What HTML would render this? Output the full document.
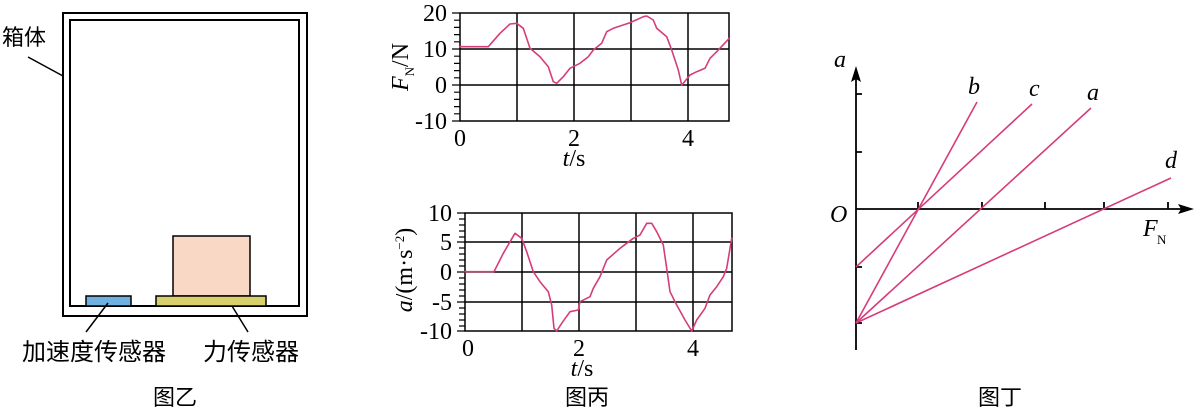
<!DOCTYPE html>
<html><head><meta charset="utf-8"><style>
html,body{margin:0;padding:0;background:#fff;}
svg{display:block;}
.s{font-family:"Liberation Serif","Noto Serif CJK SC",serif;fill:#000;}
.c{font-family:"Liberation Sans","Noto Sans CJK SC",sans-serif;fill:#000;}
polyline{stroke-linejoin:round;stroke-linecap:round;}
</style></head><body>
<svg width="1200" height="411" viewBox="0 0 1200 411" xmlns="http://www.w3.org/2000/svg">
<!-- 图乙 -->
<rect x="63" y="13" width="244" height="303" fill="none" stroke="#000" stroke-width="2"/>
<rect x="70" y="20" width="229" height="286" fill="none" stroke="#000" stroke-width="2"/>
<line x1="28" y1="57" x2="63" y2="76" stroke="#000" stroke-width="1.5"/>
<text x="2" y="45" class="c" font-size="22">箱体</text>
<rect x="86" y="296" width="45" height="10" fill="#6fb0e0" stroke="#000" stroke-width="1.5"/>
<rect x="173" y="236" width="77" height="60" fill="#f9d9c6" stroke="#000" stroke-width="1.5"/>
<rect x="156" y="296" width="110" height="10" fill="#d8d06a" stroke="#000" stroke-width="1.5"/>
<line x1="108" y1="303" x2="86" y2="332" stroke="#000" stroke-width="1.5"/>
<line x1="232" y1="306" x2="248" y2="332" stroke="#000" stroke-width="1.5"/>
<text x="22" y="360" class="c" font-size="24">加速度传感器</text>
<text x="203" y="360" class="c" font-size="24">力传感器</text>
<text x="175" y="405" class="c" font-size="22" text-anchor="middle">图乙</text>

<!-- 图丙 top -->
<g stroke="#000" stroke-width="1.5" fill="none">
<rect x="460" y="13" width="269" height="108"/>
<line x1="517" y1="13" x2="517" y2="121"/><line x1="574" y1="13" x2="574" y2="121"/>
<line x1="631" y1="13" x2="631" y2="121"/><line x1="688" y1="13" x2="688" y2="121"/>
<line x1="460" y1="49" x2="729" y2="49"/><line x1="460" y1="85" x2="729" y2="85"/>
<path d="M452 13H460M454 20.2H460M454 27.4H460M454 34.6H460M454 41.8H460M452 49H460M454 56.2H460M454 63.4H460M454 70.6H460M454 77.8H460M452 85H460M454 92.2H460M454 99.4H460M454 106.6H460M454 113.8H460M452 121H460" stroke-width="1.2"/>
</g>
<polyline fill="none" stroke="#d63c7a" stroke-width="1.6" points="460,46.7 488.3,46.7 500,33.3 510,24 516.7,23.3 523.3,28.3 530,48.3 540,56.7 548.3,66.7 553.3,81.7 556.7,83.3 563.3,76.7 570,68.3 580,63.3 588.3,56.7 593.3,50 601.7,43.3 606.7,31.7 613.3,28.3 630,22.7 643.3,16.7 646.7,16 653.3,20 656.7,28.3 666.7,36.7 671.7,50 678.3,70 681.7,85 683.3,83.3 690,75 696.7,71.7 705,68.3 710,58.3 716.7,51.7 729.3,38.3"/>
<g class="s" font-size="24" text-anchor="end">
<text x="447" y="21">20</text><text x="447" y="57">10</text><text x="447" y="93">0</text><text x="447" y="129">-10</text>
</g>
<g class="s" font-size="24" text-anchor="middle">
<text x="460" y="146">0</text><text x="574" y="146">2</text><text x="688" y="146">4</text>
<text x="574" y="166"><tspan font-style="italic">t</tspan>/s</text>
</g>
<text transform="translate(408,67) rotate(-90)" class="s" font-size="24" text-anchor="middle"><tspan font-style="italic">F</tspan><tspan font-size="13" dy="6">N</tspan><tspan dy="-6">/N</tspan></text>

<!-- 图丙 bottom -->
<g stroke="#000" stroke-width="1.5" fill="none">
<rect x="465" y="213" width="267" height="118"/>
<line x1="522" y1="213" x2="522" y2="331"/><line x1="579" y1="213" x2="579" y2="331"/>
<line x1="636" y1="213" x2="636" y2="331"/><line x1="693" y1="213" x2="693" y2="331"/>
<line x1="465" y1="242" x2="732" y2="242"/><line x1="465" y1="272" x2="732" y2="272"/><line x1="465" y1="302" x2="732" y2="302"/>
<path d="M457 213H465M459 219H465M459 225H465M459 231H465M459 237H465M457 242H465M459 248H465M459 254H465M459 260H465M459 266H465M457 272H465M459 278H465M459 284H465M459 290H465M459 296H465M457 302H465M459 308H465M459 314H465M459 320H465M459 326H465M457 331H465" stroke-width="1.2"/>
</g>
<polyline fill="none" stroke="#d63c7a" stroke-width="1.6" points="465,271.7 494,271.7 503.3,253.3 515,233.3 521.7,238.3 526.7,251.7 533.3,271.7 540,281.7 548.3,291.7 551.7,305 554,328.3 556.7,331 561.7,323.3 570,311.7 578.3,310 580,301.7 590,296.7 593.3,288.3 600,276.7 606.7,260 620,248.3 633.3,238.3 640,235 646.7,223.3 651.7,223.3 656.7,231.7 663.3,245 666.7,268.3 670,291.7 676.7,305 685,320 691.7,331 696.7,320 705,308.3 710,295 716.7,286.7 723.3,276.7 726.7,268.3 731.7,238.3"/>
<g class="s" font-size="24" text-anchor="end">
<text x="452" y="221">10</text><text x="452" y="250">5</text><text x="452" y="280">0</text><text x="452" y="310">-5</text><text x="452" y="339">-10</text>
</g>
<g class="s" font-size="24" text-anchor="middle">
<text x="468" y="356">0</text><text x="579" y="356">2</text><text x="693" y="356">4</text>
<text x="582" y="376"><tspan font-style="italic">t</tspan>/s</text>
</g>
<text transform="translate(412,270) rotate(-90)" class="s" font-size="24" text-anchor="middle"><tspan font-style="italic">a</tspan>/(m·s<tspan font-size="13" dy="-8">−2</tspan><tspan dy="8">)</tspan></text>
<text x="587" y="405" class="c" font-size="22" text-anchor="middle">图丙</text>

<!-- 图丁 -->
<g stroke="#000" stroke-width="1.8" fill="none">
<line x1="856" y1="72" x2="856" y2="350"/>
<line x1="856" y1="209" x2="1186" y2="209"/>
<path d="M918 202V209M982 202V209M1045 202V209M1104 202V209M1168 202V209M856 94H862M856 152H862M856 267H862M856 323H862"/>
</g>
<path d="M856 66 L851 82 L856 79 L861 82 Z" fill="#000"/>
<path d="M1194 209 L1178 204 L1181 209 L1178 214 Z" fill="#000"/>
<g stroke="#d63c7a" stroke-width="1.6">
<line x1="856" y1="323" x2="977" y2="102"/>
<line x1="856" y1="267" x2="1032" y2="104"/>
<line x1="856" y1="323" x2="1091" y2="108"/>
<line x1="856" y1="323" x2="1171" y2="178"/>
</g>
<g class="s" font-size="24" font-style="italic">
<text x="834" y="67">a</text>
<text x="968" y="94">b</text>
<text x="1029" y="96">c</text>
<text x="1087" y="100">a</text>
<text x="1165" y="168">d</text>
<text x="830" y="222">O</text>
<text x="1143" y="236">F</text>
</g>
<text x="1157" y="244" class="s" font-size="13">N</text>
<text x="1000" y="405" class="c" font-size="22" text-anchor="middle">图丁</text>
</svg>
</body></html>
